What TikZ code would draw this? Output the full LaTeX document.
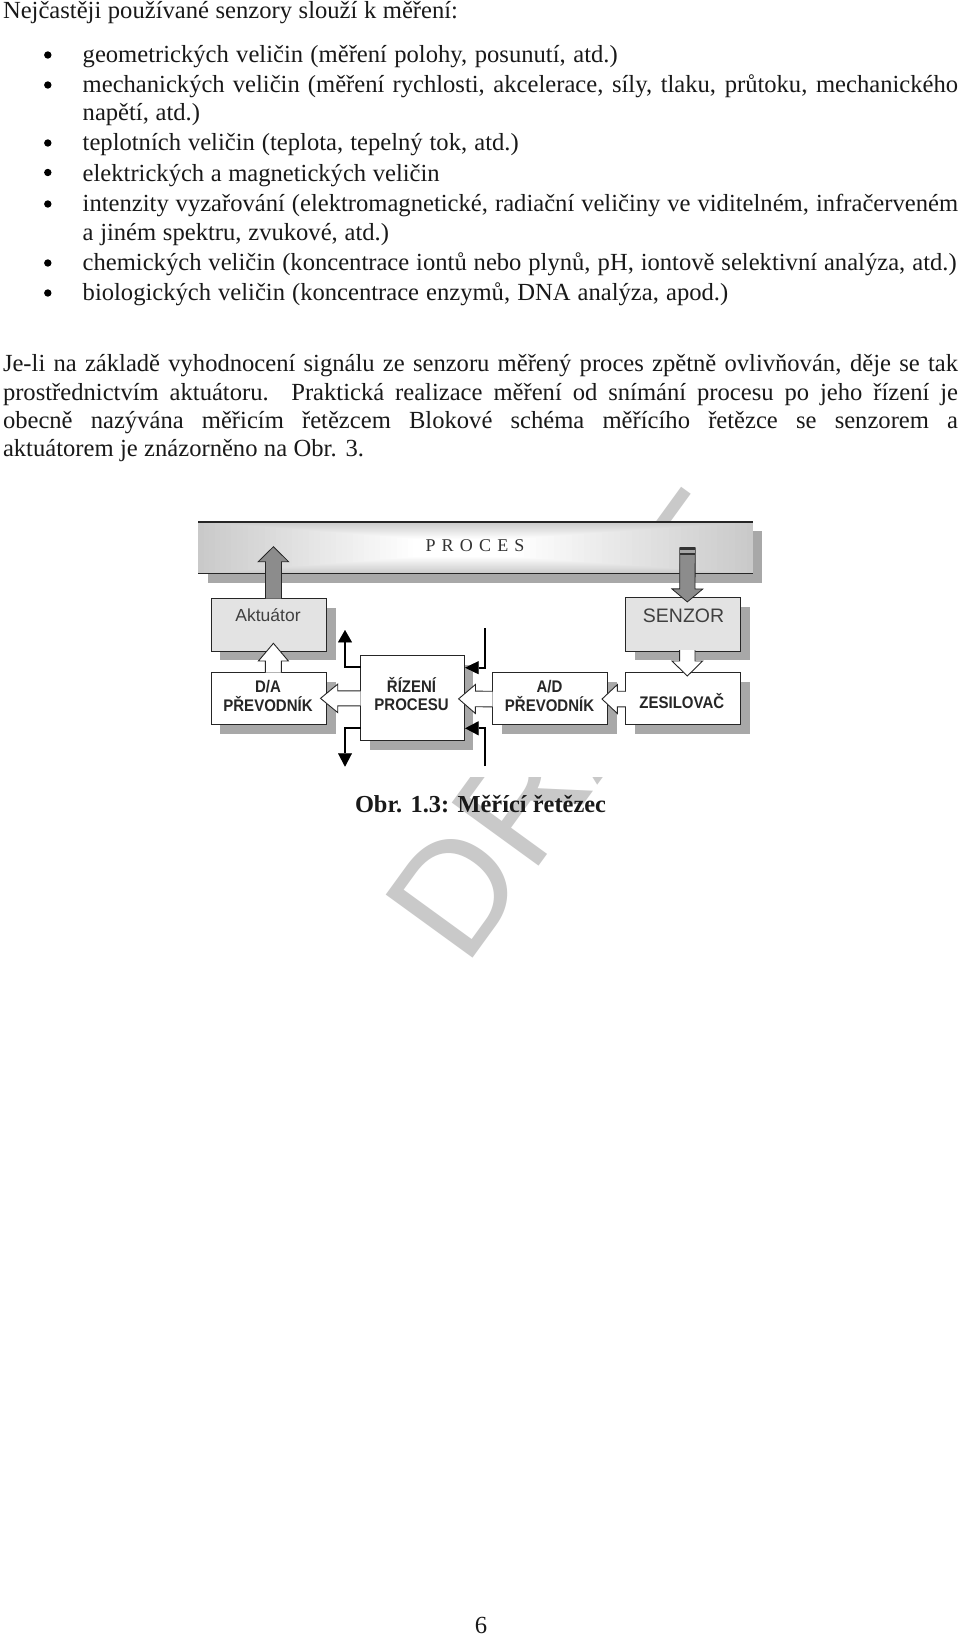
\documentclass[tikz,border=0pt]{standalone}
\usepackage{fontspec}
\setmainfont{Liberation Serif}
\newfontfamily\arialf{Liberation Sans}
\usetikzlibrary{calc}
\definecolor{shadowgray}{gray}{0.66}
\definecolor{wmgray}{gray}{0.79}
\definecolor{boxgray}{gray}{0.89}
\definecolor{darkarrow}{gray}{0.55}
\tikzset{
  every node/.style={inner sep=0pt,outer sep=0pt},
  textline/.style={anchor=base west,font=\fontsize{24.6}{26}\selectfont,text=black!90},
  blockbox/.style={draw=black!85,line width=0.9pt,fill=white,anchor=north west},
  shadowbox/.style={fill=shadowgray,draw=none},
  darrow/.style={fill=darkarrow,draw=black!85,line width=0.8pt},
  warrow/.style={fill=white,draw=black!85,line width=0.9pt},
  bolab/.style={font=\arialf\bfseries\fontsize{15}{18}\selectfont,align=center,text=black!85},
  signal/.style={draw=black,line width=2.3pt},
  signalshadow/.style={draw=shadowgray,line width=2.3pt},
}
\newcommand{\tline}[5]{\node[textline] (#1) at (#2,#3) {\makebox[#4pt][s]{#5}};}
\newcommand{\bulletdot}[2]{\fill[black] (#1,#2) circle (3.7);}
\newcommand{\tall}[1]{\scalebox{1}[1.12]{#1}}
% block arrow from #2 to #3: half shaft width #4, half head width #5, head length #6
\newcommand{\blockarrow}[6][warrow]{%
  \coordinate (ba) at (#2);
  \coordinate (bb) at (#3);
  \coordinate (hb) at ($(bb)!#6pt!(ba)$);
  \filldraw[#1] ($(ba)!#4pt!90:(bb)$) -- ($(hb)!#4pt!90:(bb)$) -- ($(hb)!#5pt!90:(bb)$)
     -- (bb) -- ($(hb)!#5pt!-90:(bb)$) -- ($(hb)!#4pt!-90:(bb)$) -- ($(ba)!#4pt!-90:(bb)$);
}
\newcommand{\sigup}[4][black]{% triangle head: base centre #2, tip #3, half width #4
  \fill[#1] ($(#2)!#4pt!90:(#3)$) -- (#3) -- ($(#2)!#4pt!-90:(#3)$) -- cycle;}
\begin{document}
\begin{tikzpicture}[x=1pt,y=-1pt]
\useasboundingbox (0,0) rectangle (960,1635);
\fill[white] (0,0) rectangle (960,1635);
% watermark
\node[anchor=base west,rotate=54,text=wmgray,font=\arialf\fontsize{156}{160}\selectfont] (wm) at (465,968) {DRAFT};
\fill[white] (198,522) rectangle (766,776.7);
% text
\tline{t0}{3}{19}{455}{Nejčastěji používané senzory slouží k měření:}
\tline{t1}{82.7}{62.2}{535}{geometrických veličin (měření polohy, posunutí, atd.)}
\tline{t2}{82.7}{92.2}{875.3}{mechanických veličin (měření rychlosti, akcelerace, síly, tlaku, průtoku, mechanického}
\tline{t3}{82.7}{120.7}{117.3}{napětí, atd.)}
\tline{t4}{82.7}{150}{436}{teplotních veličin (teplota, tepelný tok, atd.)}
\tline{t5}{82.7}{181}{357}{elektrických a magnetických veličin}
\tline{t6}{82.7}{211.7}{875.3}{intenzity vyzařování (elektromagnetické, radiační veličiny ve viditelném, infračerveném}
\tline{t7}{82.7}{240}{306.3}{a jiném spektru, zvukové, atd.)}
\tline{t8}{82.7}{270.7}{874}{chemických veličin (koncentrace iontů nebo plynů, pH, iontově selektivní analýza, atd.)}
\tline{t9}{82.7}{300}{645.5}{biologických veličin (koncentrace enzymů, DNA analýza, apod.)}
\foreach \yy in {55,85,143,172.5,204,263,293} {\bulletdot{47.8}{\yy}}
\tline{p1}{3}{371}{955}{Je-li na základě vyhodnocení signálu ze senzoru měřený proces zpětně ovlivňován, děje se tak}
\tline{p2}{3}{400}{955}{prostřednictvím aktuátoru. Praktická realizace měření od snímání procesu po jeho řízení je}
\tline{p3}{3}{428}{955}{obecně nazývána měřicím řetězcem Blokové schéma měřícího řetězce se senzorem a}
\tline{p4}{3}{456.7}{361}{aktuátorem je znázorněno na Obr. 3.}
% bar
\fill[shadowgray] (207.5,530.7) rectangle (761.7,582.5);
\foreach \i in {0,...,39} {
  \pgfmathsetmacro{\ins}{\i/39}
  \pgfmathsetmacro{\xa}{198.4+\ins*215}
  \pgfmathsetmacro{\xb}{753-\ins*235}
  \pgfmathsetmacro{\ya}{522+\ins*17}
  \pgfmathsetmacro{\yb}{573.8-\ins*17}
  \pgfmathsetmacro{\pc}{21-21*\ins}
  \fill[black!\pc!white] (\xa,\ya) rectangle (\xb,\yb);
}
\node[minimum width=554.6pt,minimum height=51.8pt,anchor=north west] (bar) at (198.4,522) {};
\draw[black!85,line width=1.1pt] (bar.north west) -- (bar.north east);
\draw[black!85,line width=1.1pt] (bar.south west) -- (bar.south east);
\node[font=\fontsize{18}{20}\selectfont,text=black!80] (proces) at (475,546) {\makebox[99pt][s]{P\hfill R\hfill O\hfill C\hfill E\hfill S}};
% box shadows
\fill[shadowbox] (220.2,607.7) rectangle (335.8,660);
\fill[shadowbox] (220.2,681.7) rectangle (335.8,733.5);
\fill[shadowbox] (635,606.7) rectangle (749.8,660);
\fill[shadowbox] (635,681.7) rectangle (749.8,733.5);
\fill[shadowbox] (501.9,681.7) rectangle (617.1,733.5);
\fill[shadowbox] (369.8,665) rectangle (473,750);
% boxes
\node[blockbox,fill=boxgray,minimum width=115.6pt,minimum height=52.3pt] (akt) at (211,598.7) {};
\node[blockbox,fill=boxgray,minimum width=114.8pt,minimum height=53.3pt] (sen) at (625.8,597.7) {};
\node[blockbox,minimum width=115.6pt,minimum height=51.3pt] (dac) at (211,672.7) {};
\node[blockbox,minimum width=114.8pt,minimum height=51.3pt] (zes) at (625.8,672.7) {};
\node[blockbox,minimum width=115.2pt,minimum height=51.3pt] (adc) at (492.7,672.7) {};
\node[blockbox,minimum width=103.4pt,minimum height=85.7pt] (riz) at (360.6,655) {};
% labels
\node[font=\arialf\fontsize{17.5}{20}\selectfont,text=black!75] (laka) at (268,615) {Aktuátor};
\node[font=\arialf\fontsize{19.5}{22}\selectfont,text=black!75] (lsen) at (683.6,615.7) {SENZOR};
\node[bolab] (ld1) at (268,686.7) {\tall{D/A}};
\node[bolab] (ld2) at (268,704.3) {\tall{PŘEVODNÍK}};
\node[bolab] (la1) at (549.5,686.7) {\tall{A/D}};
\node[bolab] (la2) at (549.5,704.3) {\tall{PŘEVODNÍK}};
\node[bolab] (lz) at (681.8,701.3) {\tall{ZESILOVAČ}};
\node[bolab] (lr1) at (411.5,685.2) {\tall{ŘÍZENÍ}};
\node[bolab] (lr2) at (411.5,704.3) {\tall{PROCESU}};
% block arrows
\blockarrow[darrow]{$(akt.north)+(4.6,0)$}{$(bar.south)+(-202.3,-27.1)$}{8}{15.2}{15}
\blockarrow[darrow]{$(bar.north)+(211.8,25.3)$}{$(sen.north)+(4.1,4.2)$}{7.7}{15.5}{13}
\fill[black!80] (680,547.3) rectangle (695,549.5);
\fill[black!80] (680,552.8) rectangle (695,555.2);
\fill[gray!70] (680,549.5) rectangle (695,552.8);
\blockarrow{$(dac.north)+(4.6,0)$}{$(akt.south)+(4.6,-7.7)$}{8}{15}{17.7}
\blockarrow{$(sen.south)+(4.1,-1)$}{$(zes.north)+(4.1,3.3)$}{7.7}{15.3}{15}
\blockarrow{$(riz.west)+(0,0.5)$}{$(dac.east)+(-6.1,0)$}{7.5}{14.2}{17.2}
\blockarrow{$(adc.west)+(0,0.7)$}{$(riz.east)+(-5.4,1)$}{7.8}{14.5}{16.8}
\blockarrow{$(zes.west)+(0,0.7)$}{$(adc.east)+(-5.9,0.7)$}{7.8}{14.5}{15.4}
% signal arrows
\coordinate (ula) at ($(riz.north west)+(0,11.7)$);
\coordinate (ulb) at ($(ula)+(-15.6,0)$);
\coordinate (ulc) at ($(ulb)+(0,-24.4)$);
\coordinate (ult) at ($(ulb)+(0,-36.7)$);
\coordinate (dla) at ($(riz.south west)+(0,-13)$);
\coordinate (dlb) at ($(dla)+(-15.6,0)$);
\coordinate (dlc) at ($(dlb)+(0,25.6)$);
\coordinate (dlt) at ($(dlb)+(0,39)$);
\coordinate (urs) at (485,628.3);
\coordinate (urb) at (485,667.7);
\coordinate (urc) at (478.5,667.7);
\coordinate (urt) at ($(riz.north east)+(1,12.7)$);
\coordinate (drs) at (485,766);
\coordinate (drb) at (485,728.3);
\coordinate (drc) at (478.5,728.3);
\coordinate (drt) at ($(riz.south east)+(1,-12.4)$);
\begin{scope}[shift={(3.5,3.5)}]
  \draw[signalshadow] (ula) -- (ulb) -- (ulc);
  \sigup[shadowgray]{ulc}{ult}{7}
  \draw[signalshadow] (dla) -- (dlb) -- (dlc);
  \sigup[shadowgray]{dlc}{dlt}{7}
  \draw[signalshadow] (urs) -- (urb) -- (urc);
  \sigup[shadowgray]{urc}{urt}{6.5}
  \draw[signalshadow] (drs) -- (drb) -- (drc);
  \sigup[shadowgray]{drc}{drt}{7}
\end{scope}
\draw[signal] (ula) -- (ulb) -- (ulc);
\sigup{ulc}{ult}{7}
\draw[signal] (dla) -- (dlb) -- (dlc);
\sigup{dlc}{dlt}{7}
\draw[signal] (urs) -- (urb) -- (urc);
\sigup{urc}{urt}{6.5}
\draw[signal] (drs) -- (drb) -- (drc);
\sigup{drc}{drt}{7}
% caption
\node[anchor=base west,font=\bfseries\fontsize{24.4}{26}\selectfont,text=black!90] (cap) at (355,812.5) {\makebox[251pt][s]{Obr. 1.3: Měřící řetězec}};
% page number
\node[anchor=base,font=\fontsize{24.6}{26}\selectfont,text=black!90] (pg) at (481,1633) {6};
\end{tikzpicture}
\end{document}
